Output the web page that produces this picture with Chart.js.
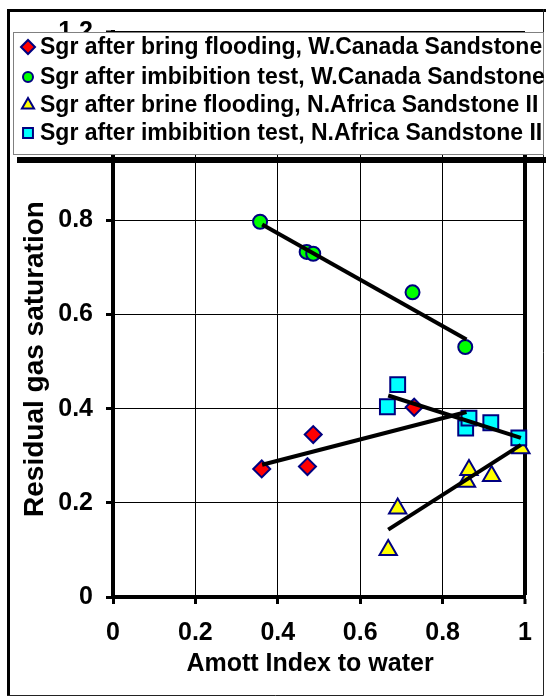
<!DOCTYPE html>
<html>
<head>
<meta charset="utf-8">
<script src="https://cdn.jsdelivr.net/npm/chart.js@4/dist/chart.umd.min.js"></script>
<style>
  body { margin: 0; background: #fff; }
  canvas { display: block; }
</style>
</head>
<body>
<canvas id="sgrChart" width="546" height="697"></canvas>
<script>
// Sgr vs Amott index
const seriesNames = [
    'Sgr after bring flooding, W.Canada Sandstone',
    'Sgr after imbibition test, W.Canada Sandstone',
    'Sgr after brine flooding, N.Africa Sandstone II',
    'Sgr after imbibition test, N.Africa Sandstone II'
];
const xTitle = 'Amott Index to water';
const yTitle = 'Residual gas saturation';

const canadaFloodX = [0.361, 0.472, 0.486, 0.731];
const canadaFloodY = [0.272, 0.277, 0.345, 0.403];

const canadaImbX = [0.357, 0.470, 0.486, 0.727, 0.855];
const canadaImbY = [0.797, 0.733, 0.729, 0.647, 0.531];

const africaFloodX = [0.668, 0.691, 0.858, 0.864, 0.919, 0.990];
const africaFloodY = [0.100, 0.188, 0.245, 0.270, 0.257, 0.316];

const africaImbX = [0.666, 0.691, 0.856, 0.864, 0.917, 0.985];
const africaImbY = [0.404, 0.451, 0.359, 0.380, 0.370, 0.338];

// trend lines (end points)
const trendCanadaFloodX = [0.362, 0.858];
const trendCanadaFloodY = [0.281, 0.393];
const trendCanadaImbX = [0.362, 0.858];
const trendCanadaImbY = [0.791, 0.547];
const trendAfricaFloodX = [0.668, 0.990];
const trendAfricaFloodY = [0.143, 0.323];
const trendAfricaImbX = [0.668, 0.990];
const trendAfricaImbY = [0.428, 0.338];

const xTicks = [0, 0.2, 0.4, 0.6, 0.8, 1];
const yTicks = [0, 0.2, 0.4, 0.6, 0.8, 1, 1.2];

const FONT = "'Liberation Sans', Arial, sans-serif";
const NAVY = '#000080';

function toPoints(xs, ys) {
    return xs.map((x, i) => ({ x: x, y: ys[i] }));
}

function markerSet(label, xs, ys, fill, style, radius, order) {
    return {
        label: label,
        data: toPoints(xs, ys),
        showLine: false,
        pointStyle: style,
        pointRadius: radius,
        pointHoverRadius: radius,
        pointBackgroundColor: fill,
        pointBorderColor: NAVY,
        pointBorderWidth: 2,
        backgroundColor: fill,
        borderColor: NAVY,
        clip: false,
        order: order
    };
}

function trendSet(xs, ys) {
    return {
        label: 'trend',
        data: toPoints(xs, ys),
        showLine: true,
        borderColor: '#000',
        borderWidth: 4,
        pointRadius: 0,
        pointHoverRadius: 0,
        clip: false,
        order: 0
    };
}

const markerColors = ['#ff0000', '#00ff00', '#ffff00', '#00ffff'];
const markerStyles = ['rectRot', 'circle', 'triangle', 'rect'];

// cadre, titres d'axes et légende dessinés à la main
const framePlugin = {
    id: 'frame',
    beforeDraw(chart) {
        const ctx = chart.ctx;
        ctx.save();
        ctx.fillStyle = '#fff';
        ctx.fillRect(0, 0, chart.width, chart.height);
        ctx.restore();
    },
    afterDraw(chart) {
        const ctx = chart.ctx;
        ctx.save();

        // axis titles
        ctx.fillStyle = '#000';
        ctx.textAlign = 'center';
        ctx.textBaseline = 'middle';
        ctx.font = 'bold 25px ' + FONT;
        ctx.fillText(xTitle, 310, 664);
        ctx.save();
        ctx.translate(35, 359);
        ctx.rotate(-Math.PI / 2);
        ctx.font = 'bold 28px ' + FONT;
        ctx.fillText(yTitle, 0, 0);
        ctx.restore();

        // outer frame
        ctx.fillStyle = '#000';
        ctx.fillRect(7, 9, 3, 687);
        ctx.fillRect(7, 9, 539, 3);
        ctx.strokeStyle = '#222';
        ctx.lineWidth = 1;
        ctx.beginPath();
        ctx.moveTo(543.5, 9);
        ctx.lineTo(543.5, 695.5);
        ctx.lineTo(7, 695.5);
        ctx.stroke();

        // legend box with shadow
        ctx.fillStyle = '#000';
        ctx.fillRect(17, 157, 529, 6);
        ctx.fillStyle = '#fff';
        ctx.fillRect(13, 32, 531, 123);
        ctx.strokeStyle = '#808080';
        ctx.strokeRect(13.5, 32.5, 530, 122);

        ctx.font = 'bold 23px ' + FONT;
        ctx.textBaseline = 'middle';
        ctx.textAlign = 'left';
        const rows = [47, 77, 105, 133];
        seriesNames.forEach((name, i) => {
            ctx.fillStyle = markerColors[i];
            ctx.strokeStyle = NAVY;
            ctx.lineWidth = 2;
            const r = i === 1 ? 5 : 7;
            Chart.helpers.drawPoint(ctx, { pointStyle: markerStyles[i], radius: r, rotation: 0, borderWidth: 2 }, 28, rows[i]);
            ctx.fillStyle = '#000';
            ctx.fillText(name, 40, rows[i] + 1);
        });
        ctx.restore();
    }
};

new Chart(document.getElementById('sgrChart'), {
    type: 'scatter',
    data: {
        datasets: [
            trendSet(trendCanadaFloodX, trendCanadaFloodY),
            trendSet(trendCanadaImbX, trendCanadaImbY),
            trendSet(trendAfricaFloodX, trendAfricaFloodY),
            trendSet(trendAfricaImbX, trendAfricaImbY),
            markerSet(seriesNames[0], canadaFloodX, canadaFloodY, markerColors[0], markerStyles[0], 8.5, 4),
            markerSet(seriesNames[1], canadaImbX, canadaImbY, markerColors[1], markerStyles[1], 7, 3),
            markerSet(seriesNames[2], africaFloodX, africaFloodY, markerColors[2], markerStyles[2], 10, 2),
            markerSet(seriesNames[3], africaImbX, africaImbY, markerColors[3], markerStyles[3], 10.5, 1)
        ]
    },
    options: {
        responsive: false,
        animation: false,
        events: [],
        layout: { padding: { left: 10, right: 21, top: 32, bottom: 10 } },
        plugins: {
            legend: { display: false },
            tooltip: { enabled: false }
        },
        scales: {
            x: {
                type: 'linear',
                min: 0,
                max: 1,
                afterBuildTicks: scale => { scale.ticks = xTicks.map(v => ({ value: v })); },
                afterFit: scale => { scale.height = 90; },
                ticks: {
                    color: '#000',
                    padding: 14,
                    maxRotation: 0,
                    font: { family: FONT, size: 25, weight: 'bold' },
                    callback: v => String(v)
                },
                grid: {
                    color: '#000',
                    lineWidth: c => (c.tick && c.tick.value === 1 ? 4 : 1),
                    tickLength: 7,
                    tickWidth: 3,
                    tickColor: '#000'
                },
                border: { display: true, color: '#000', width: 4 }
            },
            y: {
                type: 'linear',
                min: 0,
                max: 1.2,
                afterBuildTicks: scale => { scale.ticks = yTicks.map(v => ({ value: v })); },
                afterFit: scale => { scale.width = 103; },
                ticks: {
                    color: '#000',
                    padding: 13,
                    font: { family: FONT, size: 25, weight: 'bold' },
                    callback: v => String(v)
                },
                grid: {
                    color: '#000',
                    lineWidth: c => (c.tick && c.tick.value === 1.2 ? 2 : 1),
                    tickLength: 7,
                    tickWidth: 3,
                    tickColor: '#000'
                },
                border: { display: true, color: '#000', width: 4 }
            }
        }
    },
    plugins: [framePlugin]
});
</script>
</body>
</html>
